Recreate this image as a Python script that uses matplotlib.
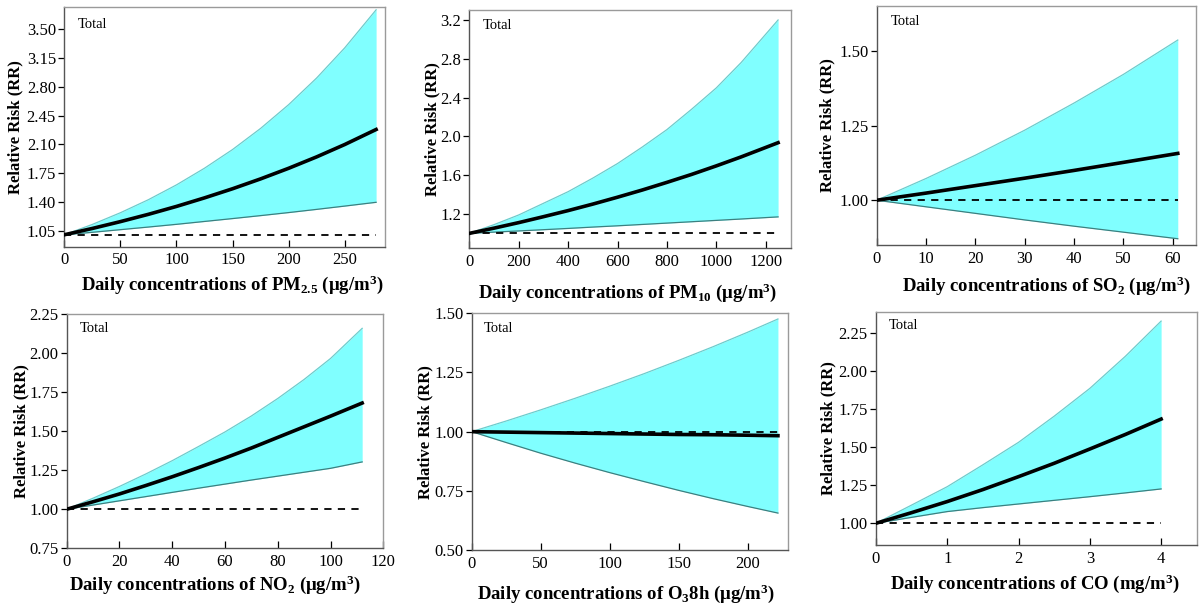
import matplotlib
matplotlib.use('Agg')
import matplotlib.pyplot as plt

plt.rcParams['font.family'] = ['Liberation Serif', 'DejaVu Serif']
plt.rcParams['mathtext.fontset'] = 'custom'
plt.rcParams['mathtext.rm'] = 'Liberation Serif'
plt.rcParams['mathtext.it'] = 'Liberation Serif:italic'
plt.rcParams['mathtext.bf'] = 'Liberation Serif:bold'

# PM2.5
pm25_x = [0, 25, 50, 75, 100, 125, 150, 175, 200, 225, 250, 278]
pm25_rr = [1.0, 1.077, 1.160, 1.249, 1.345, 1.449, 1.560, 1.680, 1.809, 1.948, 2.098, 2.281]
pm25_hi = [1.0, 1.126, 1.268, 1.427, 1.607, 1.810, 2.037, 2.294, 2.583, 2.908, 3.274, 3.737]
pm25_lo = [1.0, 1.030, 1.062, 1.094, 1.127, 1.162, 1.197, 1.233, 1.270, 1.309, 1.349, 1.395]

# PM10
pm10_x = [0, 100, 200, 300, 400, 500, 600, 700, 800, 900, 1000, 1100, 1250]
pm10_rr = [1.0, 1.054, 1.111, 1.172, 1.235, 1.302, 1.373, 1.447, 1.526, 1.608, 1.696, 1.788, 1.935]
pm10_hi = [1.0, 1.09, 1.19, 1.31, 1.43, 1.57, 1.72, 1.89, 2.07, 2.28, 2.50, 2.76, 3.20]
pm10_lo = [1.0, 1.013, 1.025, 1.038, 1.051, 1.065, 1.078, 1.092, 1.106, 1.120, 1.134, 1.148, 1.170]

# SO2
so2_x = [0, 10, 20, 30, 40, 50, 61]
so2_rr = [1.0, 1.024, 1.049, 1.074, 1.100, 1.127, 1.157]
so2_hi = [1.0, 1.073, 1.151, 1.235, 1.326, 1.422, 1.537]
so2_lo = [1.0, 0.978, 0.956, 0.934, 0.913, 0.893, 0.871]

# NO2
no2_x = [0, 10, 20, 30, 40, 50, 60, 70, 80, 90, 100, 112]
no2_rr = [1.0, 1.048, 1.098, 1.152, 1.208, 1.267, 1.328, 1.392, 1.460, 1.528, 1.596, 1.680]
no2_hi = [1.0, 1.071, 1.146, 1.226, 1.311, 1.402, 1.495, 1.597, 1.709, 1.831, 1.965, 2.158]
no2_lo = [1.0, 1.027, 1.054, 1.081, 1.108, 1.135, 1.161, 1.187, 1.212, 1.237, 1.262, 1.303]

# O3 8h
o3_x = [0, 25, 50, 75, 100, 125, 150, 175, 200, 222]
o3_rr = [1.0, 0.998, 0.996, 0.994, 0.992, 0.990, 0.988, 0.987, 0.985, 0.983]
o3_hi = [1.0, 1.045, 1.092, 1.141, 1.192, 1.245, 1.301, 1.359, 1.420, 1.476]
o3_lo = [1.0, 0.954, 0.909, 0.867, 0.827, 0.789, 0.752, 0.717, 0.684, 0.656]

# CO
co_x = [0, 0.5, 1, 1.5, 2, 2.5, 3, 3.5, 4]
co_rr = [1.0, 1.070, 1.143, 1.222, 1.307, 1.395, 1.489, 1.585, 1.686]
co_hi = [1.0, 1.120, 1.241, 1.385, 1.533, 1.705, 1.888, 2.100, 2.331]
co_lo = [1.0, 1.039, 1.077, 1.103, 1.127, 1.151, 1.175, 1.200, 1.226]

panels = [
    dict(x=pm25_x, rr=pm25_rr, hi=pm25_hi, lo=pm25_lo,
         rect=[0.0536, 0.5909, 0.2673, 0.3970], xlim=(0, 286), ylim=(0.855, 3.768),
         xticks=[0, 50, 100, 150, 200, 250], yticks=[1.05, 1.40, 1.75, 2.10, 2.45, 2.80, 3.15, 3.50], yfmt='%.2f',
         xlabel=r'Daily concentrations of PM$_{\mathbf{2.5}}$ ($\mathbf{\mu}$g/m$^{\mathbf{3}}$)',
         xlab_pos=(0.523, -0.16), ylab_x=-0.154, total=(0.043, 0.929)),
    dict(x=pm10_x, rr=pm10_rr, hi=pm10_hi, lo=pm10_lo,
         rect=[0.3911, 0.5882, 0.2678, 0.3952], xlim=(0, 1301), ylim=(0.846, 3.303),
         xticks=[0, 200, 400, 600, 800, 1000, 1200], yticks=[1.2, 1.6, 2.0, 2.4, 2.8, 3.2], yfmt='%.1f',
         xlabel=r'Daily concentrations of PM$_{\mathbf{10}}$ ($\mathbf{\mu}$g/m$^{\mathbf{3}}$)',
         xlab_pos=(0.492, -0.188), ylab_x=-0.116, total=(0.042, 0.937)),
    dict(x=so2_x, rr=so2_rr, hi=so2_hi, lo=so2_lo,
         rect=[0.7306, 0.5937, 0.2661, 0.3963], xlim=(0, 64.7), ylim=(0.850, 1.651),
         xticks=[0, 10, 20, 30, 40, 50, 60], yticks=[1.00, 1.25, 1.50], yfmt='%.2f',
         xlabel=r'Daily concentrations of SO$_{\mathbf{2}}$ ($\mathbf{\mu}$g/m$^{\mathbf{3}}$)',
         xlab_pos=(0.532, -0.172), ylab_x=-0.156, total=(0.044, 0.934)),
    dict(x=no2_x, rr=no2_rr, hi=no2_hi, lo=no2_lo,
         rect=[0.0556, 0.0907, 0.2638, 0.3886], xlim=(0, 120), ylim=(0.75, 2.25),
         xticks=[0, 20, 40, 60, 80, 100, 120], yticks=[0.75, 1.00, 1.25, 1.50, 1.75, 2.00, 2.25], yfmt='%.2f',
         xlabel=r'Daily concentrations of NO$_{\mathbf{2}}$ ($\mathbf{\mu}$g/m$^{\mathbf{3}}$)',
         xlab_pos=(0.468, -0.154), ylab_x=-0.142, total=(0.040, 0.939)),
    dict(x=o3_x, rr=o3_rr, hi=o3_hi, lo=o3_lo,
         rect=[0.3931, 0.0879, 0.2638, 0.3925], xlim=(0, 229.5), ylim=(0.5, 1.5),
         xticks=[0, 50, 100, 150, 200], yticks=[0.50, 0.75, 1.00, 1.25, 1.50], yfmt='%.2f',
         xlabel=r'Daily concentrations of O$_{\mathbf{3}}$8h ($\mathbf{\mu}$g/m$^{\mathbf{3}}$)',
         xlab_pos=(0.487, -0.183), ylab_x=-0.147, total=(0.037, 0.937)),
    dict(x=co_x, rr=co_rr, hi=co_hi, lo=co_lo,
         rect=[0.7300, 0.0962, 0.2673, 0.3869], xlim=(0, 4.5), ylim=(0.857, 2.393),
         xticks=[0, 1, 2, 3, 4], yticks=[1.00, 1.25, 1.50, 1.75, 2.00, 2.25], yfmt='%.2f',
         xlabel=r'Daily concentrations of CO (mg/m$^{\mathbf{3}}$)',
         xlab_pos=(0.496, -0.164), ylab_x=-0.149, total=(0.041, 0.939)),
]

fig = plt.figure(figsize=(12, 6.03), dpi=100)

for p in panels:
    ax = fig.add_axes(p['rect'])
    ax.fill_between(p['x'], p['lo'], p['hi'], color='#80ffff', lw=0, zorder=1)
    ax.plot(p['x'], p['hi'], color='#6ccccc', lw=0.9, zorder=2)
    ax.plot(p['x'], p['lo'], color='#3d7f7f', lw=0.9, zorder=2)
    ax.plot([p['x'][0], p['x'][-1]], [1.0, 1.0], color='black', lw=1.3,
            linestyle=(0, (4, 3.5)), zorder=3)
    ax.plot(p['x'], p['rr'], color='black', lw=2.6, zorder=4)

    ax.set_xlim(*p['xlim'])
    ax.set_ylim(*p['ylim'])
    ax.set_xticks(p['xticks'])
    ax.set_yticks(p['yticks'])
    ax.set_yticklabels([p['yfmt'] % v for v in p['yticks']])
    ax.tick_params(axis='x', direction='in', length=5, width=0.9, labelsize=12, pad=4)
    ax.tick_params(axis='y', direction='out', length=4, width=0.9, labelsize=12, pad=2)

    for side in ['left', 'bottom']:
        ax.spines[side].set_color('#555555')
        ax.spines[side].set_linewidth(1.0)
    for side in ['top', 'right']:
        ax.spines[side].set_color('#9a9a9a')
        ax.spines[side].set_linewidth(1.0)

    ax.text(p['total'][0], p['total'][1], 'Total', transform=ax.transAxes,
            fontsize=10.5, ha='left', va='center')
    ax.text(p['xlab_pos'][0], p['xlab_pos'][1], p['xlabel'], transform=ax.transAxes,
            fontsize=13.5, fontweight='bold', ha='center', va='center')
    ax.text(p['ylab_x'], 0.5, 'Relative Risk (RR)', transform=ax.transAxes,
            fontsize=12, fontweight='bold', rotation=90, ha='center', va='center')

fig.savefig('out.png', dpi=100)
